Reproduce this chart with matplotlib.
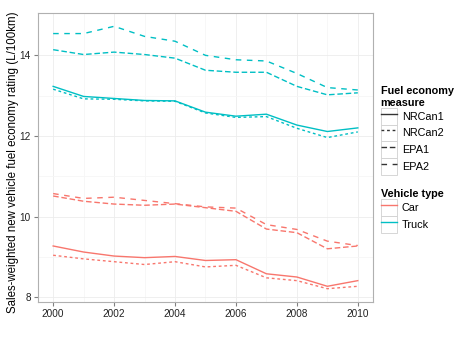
import matplotlib.pyplot as plt
from matplotlib.lines import Line2D
from matplotlib.patches import Rectangle
from matplotlib.legend_handler import HandlerLine2D

plt.rcParams['font.family'] = ['Liberation Sans', 'DejaVu Sans']

years = list(range(2000, 2011))

# car values (L/100km)
car_nrcan1 = [9.27, 9.12, 9.02, 8.98, 9.01, 8.91, 8.93, 8.58, 8.50, 8.27, 8.41]
car_nrcan2 = [9.04, 8.95, 8.88, 8.81, 8.88, 8.75, 8.79, 8.48, 8.41, 8.21, 8.27]
car_epa1 = [10.51, 10.38, 10.31, 10.28, 10.31, 10.22, 10.13, 9.69, 9.60, 9.20, 9.27]
car_epa2 = [10.57, 10.45, 10.48, 10.40, 10.32, 10.24, 10.21, 9.80, 9.68, 9.39, 9.28]

# truck values (L/100km)
truck_nrcan1 = [13.23, 12.98, 12.93, 12.88, 12.87, 12.59, 12.49, 12.54, 12.27, 12.11, 12.20]
truck_nrcan2 = [13.16, 12.92, 12.91, 12.87, 12.86, 12.57, 12.46, 12.48, 12.19, 11.96, 12.10]
truck_epa1 = [14.14, 14.02, 14.08, 14.02, 13.93, 13.63, 13.58, 13.58, 13.23, 13.02, 13.07]
truck_epa2 = [14.54, 14.54, 14.72, 14.47, 14.35, 14.00, 13.89, 13.86, 13.55, 13.20, 13.14]

measures = ['NRCan1', 'NRCan2', 'EPA1', 'EPA2']
vehicles = ['Car', 'Truck']

colors = {'Car': '#F8766D', 'Truck': '#00BFC4'}
dashes = {'NRCan1': None, 'NRCan2': (2, 2), 'EPA1': (4, 2), 'EPA2': (4, 4)}

series = {
    ('Car', 'NRCan1'): car_nrcan1, ('Car', 'NRCan2'): car_nrcan2,
    ('Car', 'EPA1'): car_epa1, ('Car', 'EPA2'): car_epa2,
    ('Truck', 'NRCan1'): truck_nrcan1, ('Truck', 'NRCan2'): truck_nrcan2,
    ('Truck', 'EPA1'): truck_epa1, ('Truck', 'EPA2'): truck_epa2,
}


def make_line(color, m, **kw):
    ln = Line2D([], [], color=color, lw=1.0, **kw)
    if dashes[m] is not None:
        ln.set_dashes(dashes[m])
    return ln


class BoxedLine(HandlerLine2D):
    # legend key with a light grey box, like ggplot
    def create_artists(self, legend, orig_handle, xdescent, ydescent,
                       width, height, fontsize, trans):
        arts = super().create_artists(legend, orig_handle, xdescent, ydescent,
                                      width, height, fontsize, trans)
        box = Rectangle((-xdescent, -ydescent), width, height, transform=trans,
                        facecolor='white', edgecolor='#d0d0d0', lw=0.6)
        return [box] + list(arts)


fig = plt.figure(figsize=(4.74, 3.38), dpi=100)
ax = fig.add_axes([0.080, 0.1065, 0.707, 0.855])

for (v, m), vals in series.items():
    ln, = ax.plot(years, vals, color=colors[v], lw=1.0)
    if dashes[m] is not None:
        ln.set_dashes(dashes[m])

ax.set_xlim(1999.5, 2010.5)
ax.set_ylim(7.88, 15.05)
ax.set_xticks(range(2000, 2011, 2))
ax.set_xticks(range(2001, 2011, 2), minor=True)
ax.set_yticks([8, 10, 12, 14])
ax.set_yticks([9, 11, 13], minor=True)

ax.grid(which='major', color='#ececec', lw=0.6)
ax.grid(which='minor', color='#f6f6f6', lw=0.6)
ax.set_axisbelow(True)
for s in ax.spines.values():
    s.set_color('#b0b0b0')
    s.set_linewidth(0.8)
ax.tick_params(which='major', length=3, color='#808080', labelsize=7.2,
               labelcolor='#222222', pad=2)
ax.tick_params(which='minor', length=0)
ax.set_ylabel('Sales-weighted new vehicle fuel economy rating (L/100km)',
              fontsize=8.3)
ax.yaxis.set_label_coords(-0.055, 0.485)

# legends
leg_kw = dict(loc='upper left', frameon=False, fontsize=7.8,
              title_fontsize=7.8, alignment='left', handlelength=1.55,
              handleheight=2.0, labelspacing=0, handletextpad=0.4,
              borderpad=0, borderaxespad=0,
              handler_map={Line2D: BoxedLine()})

h1 = [make_line('#333333', m) for m in measures]
leg1 = fig.legend(h1, measures, bbox_to_anchor=(0.803, 0.745),
                  title='Fuel economy\nmeasure', **leg_kw)
leg1.get_title().set_fontweight('bold')

h2 = [make_line(colors[v], 'NRCan1') for v in vehicles]
leg2 = fig.legend(h2, vehicles, bbox_to_anchor=(0.803, 0.44),
                  title='Vehicle type', **leg_kw)
leg2.get_title().set_fontweight('bold')

fig.savefig('out.png', dpi=100, facecolor='white')
